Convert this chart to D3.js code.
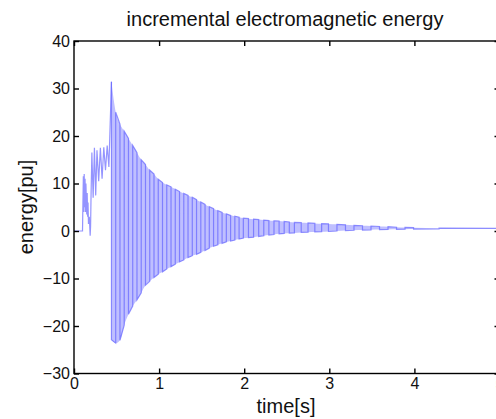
<!DOCTYPE html>
<html>
<head>
<meta charset="utf-8">
<script src="https://cdn.jsdelivr.net/npm/d3@7"></script>
<style>
  html, body { margin: 0; padding: 0; background: #fff; }
  svg { display: block; font-family: "Liberation Sans", Arial, Helvetica, sans-serif; }
</style>
</head>
<body>
<div id="chart"></div>
<script>
// tick values
const xTicks = [0, 1, 2, 3, 4, 5];
const yTicks = [-30, -20, -10, 0, 10, 20, 30, 40];

// start of the transient (read point by point)
const earlyT = [0, 0.10, 0.105, 0.11, 0.115, 0.12, 0.125, 0.13, 0.135, 0.14, 0.15, 0.155, 0.16, 0.165, 0.17, 0.18, 0.19, 0.195,
  0.20, 0.21, 0.225, 0.24, 0.255, 0.27, 0.29, 0.31, 0.33, 0.35, 0.37, 0.39, 0.41, 0.44];
const earlyV = [0, 0, 6, 11.5, 4, 12, 5, 11, 4, 10, 3.5, 8, 3, 6, 1.5, 3, -1, 1,
  7, 16.5, 7, 17.5, 7.5, 17, 10.5, 17.5, 11, 17.6, 12.8, 18, 13.5, 31.4];

// after the spike: swing tops and bottoms of the oscillation
const pkT = [0.44, 0.49, 0.54, 0.59, 0.64, 0.69, 0.74, 0.79, 0.84, 0.89, 0.94, 0.99, 1.04, 1.09, 1.14, 1.19, 1.24, 1.29,
  1.34, 1.39, 1.44, 1.49, 1.54, 1.59, 1.64, 1.69, 1.74, 1.79, 1.84, 1.89, 1.94, 1.99, 2.05, 2.11, 2.17, 2.23, 2.29, 2.35,
  2.41, 2.47, 2.53, 2.59, 2.67, 2.75, 2.83, 2.91, 2.99, 3.09, 3.19, 3.29, 3.39, 3.49, 3.59, 3.69, 3.79, 3.89, 3.99, 4.29, 4.99];
const pkHi = [31.4, 25, 22.5, 21, 19.5, 18, 16.5, 15, 14, 12.8, 12, 10.9, 10.2, 9.7, 9.3, 8.8, 8.3, 7.9,
  7.5, 7.1, 6.6, 6.1, 5.6, 5.1, 4.7, 4.3, 3.9, 3.6, 3.3, 3.1, 2.9, 2.7, 2.6, 2.5, 2.4, 2.3, 2.2, 2.15,
  2.1, 2.0, 1.9, 1.8, 1.75, 1.7, 1.6, 1.55, 1.5, 1.4, 1.3, 1.2, 1.1, 1.05, 0.95, 0.9, 0.8, 0.75, 0.7, 0.6, 0.55];
const pkLo = [-22.9, -23.6, -23, -19.8, -17.5, -15.8, -14.5, -13, -11.4, -10.6, -9.8, -9.1, -8.6, -8.0, -7.5, -7.0, -6.5, -6.1,
  -5.6, -5.2, -4.9, -4.5, -4.1, -3.6, -3.2, -2.9, -2.6, -2.3, -2.1, -1.9, -1.7, -1.5, -1.4, -1.3, -1.15, -1.0, -0.85, -0.75,
  -0.6, -0.5, -0.45, -0.4, -0.3, -0.25, -0.2, -0.15, -0.1, 0, 0.1, 0.15, 0.2, 0.25, 0.3, 0.32, 0.35, 0.38, 0.4, 0.45, 0.5];

const width = 496, height = 419;
const svg = d3.select("#chart").append("svg")
  .attr("width", width)
  .attr("height", height);

const x = d3.scaleLinear().domain([0, 5]).range([74, 499.5]);
const y = d3.scaleLinear().domain([-30, 40]).range([373.5, 41]);

// light band of the oscillation
const band = pkT.map((t, i) => ({ t: t, hi: pkHi[i], lo: pkLo[i] }));
svg.append("path")
  .datum(band)
  .attr("fill", "#bfbfff")
  .attr("d", d3.area().curve(d3.curveMonotoneX).x(d => x(d.t)).y0(d => y(d.lo)).y1(d => y(d.hi)));

// early part of the trace
const early = earlyT.map((t, i) => [t, earlyV[i]]);
svg.append("path")
  .datum(early)
  .attr("fill", "none")
  .attr("stroke", "#5a5aff")
  .attr("stroke-opacity", 0.65)
  .attr("stroke-width", 1.2)
  .attr("d", d3.line().x(d => x(d[0])).y(d => y(d[1])));

// vertical swings
const swings = [];
band.forEach((d, i) => {
  if (i % 2 === 0) { swings.push([d.t, d.hi], [d.t, d.lo]); }
  else { swings.push([d.t, d.lo], [d.t, d.hi]); }
});
svg.append("path")
  .datum(swings)
  .attr("fill", "none")
  .attr("stroke", "#6464ff")
  .attr("stroke-opacity", 0.7)
  .attr("stroke-width", 1.2)
  .attr("d", d3.line().x(d => x(d[0])).y(d => y(d[1])));

// box
svg.append("rect")
  .attr("x", x(0)).attr("y", y(40))
  .attr("width", x(5) - x(0)).attr("height", y(-30) - y(40))
  .attr("fill", "none").attr("stroke", "#000").attr("stroke-width", 1.4);

function styleAxis(g) {
  g.select(".domain").remove();
  g.selectAll(".tick line").attr("stroke", "#000").attr("stroke-width", 1.4);
  g.selectAll(".tick text").attr("fill", "#111").attr("font-size", 16)
    .attr("font-family", "'Liberation Sans', Arial, sans-serif");
}

svg.append("g")
  .attr("transform", `translate(0,${y(-30)})`)
  .call(d3.axisBottom(x).tickValues(xTicks).tickFormat(d3.format("d")).tickSizeInner(-5).tickSizeOuter(0).tickPadding(4))
  .call(styleAxis);

svg.append("g")
  .attr("transform", `translate(0,${y(40)})`)
  .call(d3.axisTop(x).tickValues(xTicks).tickFormat("").tickSizeInner(-5).tickSizeOuter(0))
  .call(styleAxis);

svg.append("g")
  .attr("transform", `translate(${x(0)},0)`)
  .call(d3.axisLeft(y).tickValues(yTicks).tickFormat(d3.format("d")).tickSizeInner(-5).tickSizeOuter(0).tickPadding(4))
  .call(styleAxis);

svg.append("g")
  .attr("transform", `translate(${x(5)},0)`)
  .call(d3.axisRight(y).tickValues(yTicks).tickFormat("").tickSizeInner(-5).tickSizeOuter(0))
  .call(styleAxis);

// titles
svg.append("text")
  .attr("x", 285).attr("y", 26)
  .attr("text-anchor", "middle")
  .attr("font-size", 20)
  .attr("fill", "#111")
  .text("incremental electromagnetic energy");

svg.append("text")
  .attr("x", 286).attr("y", 413)
  .attr("text-anchor", "middle")
  .attr("font-size", 20)
  .attr("fill", "#111")
  .text("time[s]");

svg.append("text")
  .attr("transform", "translate(33,207) rotate(-90)")
  .attr("text-anchor", "middle")
  .attr("font-size", 20)
  .attr("fill", "#111")
  .text("energy[pu]");
</script>
</body>
</html>
